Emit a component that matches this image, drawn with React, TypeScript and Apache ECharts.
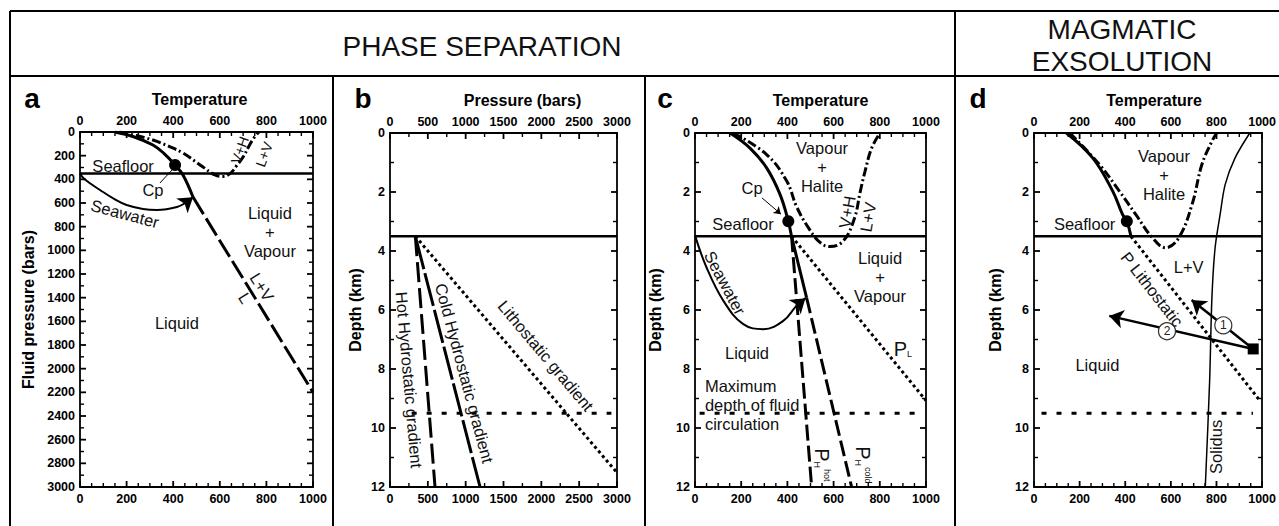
import React, { useEffect, useRef } from "react";
import * as echarts from "echarts";

const FONT = "'Liberation Sans', Arial, Helvetica, sans-serif";

// ---------- Header / panel texts ----------
const headerLeft = "PHASE SEPARATION";
const headerRight = ["MAGMATIC", "EXSOLUTION"];
const panelLetters = ["a", "b", "c", "d"];

// ---------- Panel a : Temperature vs Fluid pressure (bars) ----------
const aSeafloor = [[0, 350], [1000, 350]];
const aBoiling = [[150, 0], [230, 40], [313, 110], [360, 180], [408, 279], [442, 363], [485, 550]];
const aLVBoundary = [[485, 550], [1000, 2200]];
const aHalite = [[168, 0], [240, 30], [313, 68], [380, 120], [442, 178], [528, 296], [579, 363], [614, 376], [645, 350], [670, 290], [700, 211], [725, 120], [748, 45], [768, 0]];
const aSeawater = [[0, 350], [20, 400], [86, 490], [150, 570], [200, 617], [270, 650], [330, 659], [416, 634], [460, 590], [485, 552]];
const aCp = [[408, 279]];
const aCpLeader = [[343, 431], [395, 321]];

// ---------- Panel b : Pressure (bars) vs Depth (km) ----------
const bSeafloor = [[0, 3.5], [3000, 3.5]];
const bMaxDepth = [[286, 9.5], [2926, 9.5]];
const bHot = [[335, 3.5], [595, 12]];
const bCold = [[335, 3.5], [1190, 12]];
const bLitho = [[335, 3.5], [2995, 11.5]];

// ---------- Panel c : Temperature vs Depth (km) ----------
const cSeafloor = [[0, 3.5], [1000, 3.5]];
const cMaxDepth = [[20, 9.5], [965, 9.5]];
const cBoiling = [[152, 0], [238, 0.51], [310, 1.18], [368, 2.08], [404, 2.99], [418, 3.5], [483, 5.58]];
const cHalite = [[166, 0], [310, 0.73], [397, 1.63], [440, 2.5], [490, 3.2], [540, 3.7], [584, 3.85], [642, 3.66], [690, 2.9], [715, 2.0], [736, 1.3], [765, 0.51], [801, 0]];
const cHot = [[418, 3.5], [505, 12]];
const cCold = [[483, 5.58], [678, 12]];
const cLitho = [[418, 3.5], [1000, 9.07]];
const cSeawater = [[0, 3.47], [50, 4.56], [123, 5.69], [209, 6.48], [296, 6.65], [382, 6.37], [440, 5.85], [478, 5.6]];
const cCp = [[404, 2.99]];
const cCpArrow = [[290, 2.2], [372, 2.75]];

// ---------- Panel d : Temperature vs Depth (km) ----------
const dSeafloor = [[0, 3.5], [1000, 3.5]];
const dMaxDepth = [[33, 9.5], [960, 9.5]];
const dBoiling = [[142, 0], [258, 0.85], [345, 1.97], [388, 2.76], [407, 2.99], [425, 3.5]];
const dHalite = [[157, 0], [287, 1.07], [374, 1.97], [446, 2.76], [519, 3.55], [577, 3.89], [635, 3.55], [693, 2.42], [736, 1.07], [780, 0.28], [801, 0]];
const dLitho = [[425, 3.5], [990, 9.07]];
const dSolidus = [[946, 0], [881, 0.85], [838, 1.75], [816, 2.76], [794, 3.89], [780, 5.58], [770, 8.4], [751, 12]];
const dCp = [[407, 2.99]];
const dMagma = [[961, 7.32]];
const dArrowTips = [[691, 5.66], [330, 6.2]];
const dPathNumbers = [
  { name: "1", value: [830, 6.52] },
  { name: "2", value: [583, 6.72] },
];

// ---------- Annotation texts (anchored in data coordinates) ----------
type Lbl = { text: string; at: number[]; rotate?: number; align?: string; size?: number };
const aLabels: Lbl[] = [
  { text: "Seafloor", at: [185, 287] },
  { text: "Cp", at: [313, 490] },
  { text: "Seawater", at: [193, 690], rotate: -15 },
  { text: "Liquid\n+\nVapour", at: [815, 845] },
  { text: "L+V", at: [781, 1310], rotate: -58 },
  { text: "L", at: [708, 1403], rotate: -58 },
  { text: "Liquid", at: [416, 1615] },
  { text: "V+H", at: [686, 152], rotate: 70, size: 14 },
  { text: "L+V", at: [790, 190], rotate: 70, size: 14 },
];
const bLabels: Lbl[] = [
  { text: "Hot Hydrostatic gradient", at: [255, 8.37], rotate: -85 },
  { text: "Cold Hydrostatic gradient", at: [985, 8.14], rotate: -75 },
  { text: "Lithostatic gradient", at: [2060, 7.55], rotate: -50 },
];
const cLabels: Lbl[] = [
  { text: "Vapour\n+\nHalite", at: [550, 1.15] },
  { text: "Cp", at: [247, 1.86] },
  { text: "Seafloor", at: [208, 3.08] },
  { text: "V+H", at: [658, 2.68], rotate: 80 },
  { text: "L+V", at: [749, 2.85], rotate: 80 },
  { text: "Liquid\n+\nVapour", at: [801, 4.88] },
  { text: "Seawater", at: [130, 5.08], rotate: -62 },
  { text: "Liquid", at: [225, 7.46] },
  { text: "{p|P}{sub|L}", at: [900, 7.32] },
  { text: "Maximum\ndepth of fluid\ncirculation", at: [43, 9.22], align: "left" },
  { text: "{p|P}{sub|H}{sup|hot}", at: [550, 11.25], rotate: -90 },
  { text: "{p|P}{sub|H}{sup|cold}", at: [727, 11.25], rotate: -90 },
];
const dLabels: Lbl[] = [
  { text: "Vapour\n+\nHalite", at: [570, 1.42] },
  { text: "Seafloor", at: [222, 3.08] },
  { text: "L+V", at: [678, 4.54] },
  { text: "P Lithostatic", at: [518, 5.3], rotate: -52 },
  { text: "Liquid", at: [278, 7.86] },
  { text: "Solidus", at: [800, 10.64], rotate: 90 },
];

// ---------- Axes definitions ----------
const panelAxes = [
  { xMin: 0, xMax: 1000, xInt: 200, xMinor: 4, xName: "Temperature", yMin: 0, yMax: 3000, yInt: 200, yMinor: 2, yName: "Fluid pressure (bars)" },
  { xMin: 0, xMax: 3000, xInt: 500, xMinor: 2, xName: "Pressure (bars)", yMin: 0, yMax: 12, yInt: 2, yMinor: 2, yName: "Depth (km)" },
  { xMin: 0, xMax: 1000, xInt: 200, xMinor: 4, xName: "Temperature", yMin: 0, yMax: 12, yInt: 2, yMinor: 2, yName: "Depth (km)" },
  { xMin: 0, xMax: 1000, xInt: 200, xMinor: 4, xName: "Temperature", yMin: 0, yMax: 12, yInt: 2, yMinor: 2, yName: "Depth (km)" },
];

const GRIDS = [
  { left: 80, top: 132, width: 233, height: 355 },
  { left: 390, top: 133, width: 227, height: 354 },
  { left: 695, top: 133, width: 231, height: 354 },
  { left: 1034, top: 133, width: 230, height: 354 },
];
const X_NAME_PAD = [6, 38, 20, 12];
const Y_NAME_GAP = [44, 27, 32, 31];

const INK = "#111";
const RICH = {
  p: { fontSize: 20, fontFamily: FONT, color: INK },
  sub: { fontSize: 9, fontFamily: FONT, color: INK, verticalAlign: "bottom", padding: [8, 0, 0, 0] },
  sup: { fontSize: 9, fontFamily: FONT, color: INK, verticalAlign: "top", padding: [0, 0, 8, 1] },
};

function buildAxes() {
  const xs: any[] = [];
  const ys: any[] = [];
  panelAxes.forEach((p, gi) => {
    const common = {
      type: "value",
      gridIndex: gi,
      splitLine: { show: false },
      axisLine: { show: true, onZero: false, lineStyle: { color: "#000", width: 1.8 } },
      axisTick: { show: false },
      minorTick: { show: false },
      axisLabel: {
        show: true,
        margin: 5,
        color: "#000",
        fontWeight: "bold",
        fontSize: 12.5,
        fontFamily: FONT,
        formatter: (v: number) => String(v),
      },
    };
    const xc = { ...common, min: p.xMin, max: p.xMax, interval: p.xInt };
    xs.push({
      ...xc,
      position: "top",
      name: p.xName,
      nameLocation: "middle",
      nameGap: 25,
      nameTextStyle: { fontWeight: "bold", fontSize: 16, fontFamily: FONT, color: "#000", padding: [0, 0, 0, X_NAME_PAD[gi]] },
    });
    xs.push({ ...xc, position: "bottom" });
    const yc = { ...common, min: p.yMin, max: p.yMax, interval: p.yInt, inverse: true };
    ys.push({
      ...yc,
      position: "left",
      name: p.yName,
      nameLocation: "middle",
      nameGap: Y_NAME_GAP[gi],
      nameTextStyle: { fontWeight: "bold", fontSize: 16, fontFamily: FONT, color: "#000" },
    });
    ys.push({ ...yc, position: "right", axisLabel: { show: false } });
  });
  return { xs, ys };
}

// tick marks on all four sides of each frame, positioned through the chart's own axis scales
function buildTickGraphics(chart: any) {
  const out: any[] = [];
  panelAxes.forEach((p, gi) => {
    const finder = { xAxisIndex: 2 * gi, yAxisIndex: 2 * gi };
    const px = (x: number, y: number) => {
      const r = chart.convertToPixel(finder, [x, y]);
      return Array.isArray(r) && isFinite(r[0]) && isFinite(r[1]) ? r : null;
    };
    const xStep = p.xInt / p.xMinor;
    for (let i = 0; p.xMin + i * xStep <= p.xMax + 1e-9; i++) {
      const v = p.xMin + i * xStep;
      const major = i % p.xMinor === 0;
      const len = major ? 6 : 4;
      const style = { stroke: "#000", lineWidth: major ? 1.8 : 1.4 };
      const t = px(v, p.yMin);
      const b = px(v, p.yMax);
      if (t) out.push({ type: "line", silent: true, z: 50, shape: { x1: t[0], y1: t[1], x2: t[0], y2: t[1] + len }, style });
      if (b) out.push({ type: "line", silent: true, z: 50, shape: { x1: b[0], y1: b[1], x2: b[0], y2: b[1] - len }, style });
    }
    const yStep = p.yInt / p.yMinor;
    for (let i = 0; p.yMin + i * yStep <= p.yMax + 1e-9; i++) {
      const v = p.yMin + i * yStep;
      const major = i % p.yMinor === 0;
      const len = major ? 6 : 4;
      const style = { stroke: "#000", lineWidth: major ? 1.8 : 1.4 };
      const l = px(p.xMin, v);
      const r = px(p.xMax, v);
      if (l) out.push({ type: "line", silent: true, z: 50, shape: { x1: l[0], y1: l[1], x2: l[0] + len, y2: l[1] }, style });
      if (r) out.push({ type: "line", silent: true, z: 50, shape: { x1: r[0], y1: r[1], x2: r[0] - len, y2: r[1] }, style });
    }
  });
  return out;
}

function line(gi: number, data: number[][], width: number, type: any = "solid", smooth: number = 0, extra: any = {}) {
  return {
    type: "line",
    xAxisIndex: 2 * gi,
    yAxisIndex: 2 * gi,
    data,
    symbol: "none",
    showSymbol: false,
    silent: true,
    smooth,
    lineStyle: { color: "#000", width, type, cap: "butt" },
    z: 3,
    ...extra,
  };
}

function arrowEnd(data: number[][], size: number, width: number) {
  const n = data.length;
  return {
    silent: true,
    symbol: ["none", "arrow"],
    symbolSize: size,
    label: { show: false },
    itemStyle: { color: "#000" },
    lineStyle: { color: "#000", width, type: "solid" },
    data: [[{ coord: data[n - 2] }, { coord: data[n - 1] }]],
  };
}

function markers(gi: number, data: number[][], symbol: string, size: number) {
  return {
    type: "scatter",
    xAxisIndex: 2 * gi,
    yAxisIndex: 2 * gi,
    data,
    symbol,
    symbolSize: size,
    silent: true,
    itemStyle: { color: "#000", opacity: 1 },
    z: 5,
  };
}

function texts(gi: number, items: Lbl[]) {
  return {
    type: "scatter",
    xAxisIndex: 2 * gi,
    yAxisIndex: 2 * gi,
    silent: true,
    symbolSize: 0,
    itemStyle: { opacity: 1 },
    z: 10,
    data: items.map((it) => ({
      value: it.at,
      label: {
        show: true,
        position: "inside",
        formatter: it.text,
        rotate: it.rotate || 0,
        align: it.align || "center",
        verticalAlign: "middle",
        fontSize: it.size || 16.5,
        fontFamily: FONT,
        color: INK,
        opacity: 1,
        lineHeight: 19,
        rich: RICH,
      },
    })),
  };
}

function buildSeries() {
  const s: any[] = [];
  // a
  s.push(line(0, aSeafloor, 2.5));
  s.push(line(0, aBoiling, 3, "solid", 0.4));
  s.push(line(0, aLVBoundary, 3, [20, 5]));
  s.push(line(0, aHalite, 3, [9, 3, 2, 3], 0.4));
  s.push(line(0, aSeawater, 2, "solid", 0.4, { markLine: arrowEnd(aSeawater.slice(-2), 14, 2) }));
  s.push(line(0, aCpLeader, 1));
  s.push(markers(0, aCp, "circle", 12));
  s.push(texts(0, aLabels));
  // b
  s.push(line(1, bSeafloor, 2.5));
  s.push(line(1, bMaxDepth, 3, [5, 10]));
  s.push(line(1, bHot, 3, [20, 6]));
  s.push(line(1, bCold, 3, [34, 4]));
  s.push(line(1, bLitho, 3, [3, 3]));
  s.push(texts(1, bLabels));
  // c
  s.push(line(2, cSeafloor, 2.5));
  s.push(line(2, cMaxDepth, 3, [5, 10]));
  s.push(line(2, cBoiling, 3, "solid", 0.4));
  s.push(line(2, cHalite, 3, [9, 3, 2, 3], 0.4));
  s.push(line(2, cHot, 3, [16, 5]));
  s.push(line(2, cCold, 3, [16, 5]));
  s.push(line(2, cLitho, 3, [3, 3]));
  s.push(line(2, cSeawater, 2, "solid", 0.4, { markLine: arrowEnd(cSeawater.slice(-2), 14, 2) }));
  s.push({ ...markers(2, cCp, "circle", 12), markLine: arrowEnd(cCpArrow, 7, 1) });
  s.push(texts(2, cLabels));
  // d
  s.push(line(3, dSeafloor, 2.5));
  s.push(line(3, dMaxDepth, 3, [5, 10]));
  s.push(line(3, dBoiling, 3, "solid", 0.4));
  s.push(line(3, dHalite, 3, [9, 3, 2, 3], 0.4));
  s.push(line(3, dLitho, 3, [3, 3]));
  s.push(line(3, dSolidus, 1.5, "solid", 0.3));
  s.push(markers(3, dCp, "circle", 12));
  s.push({
    ...markers(3, dMagma, "rect", 11),
    markLine: {
      silent: true,
      symbol: ["none", "arrow"],
      symbolSize: 14,
      label: { show: false },
      itemStyle: { color: "#000" },
      lineStyle: { color: "#000", width: 2.5, type: "solid" },
      data: dArrowTips.map((t) => [{ coord: dMagma[0] }, { coord: t }]),
    },
  });
  s.push({
    type: "scatter",
    xAxisIndex: 6,
    yAxisIndex: 6,
    silent: true,
    symbol: "circle",
    symbolSize: 17,
    z: 8,
    itemStyle: { color: "#fff", borderColor: "#333", borderWidth: 1.2, opacity: 1 },
    label: { show: true, position: "inside", formatter: "{b}", fontSize: 12, fontFamily: FONT, color: "#222" },
    data: dPathNumbers,
  });
  s.push(texts(3, dLabels));
  return s;
}

function buildGraphic() {
  const st = { stroke: "#000", lineWidth: 2 };
  const g: any[] = [
    { type: "line", shape: { x1: 10, y1: 11, x2: 1279, y2: 11 }, style: st },
    { type: "line", shape: { x1: 10, y1: 11, x2: 10, y2: 526 }, style: st },
    { type: "line", shape: { x1: 10, y1: 76, x2: 1279, y2: 76 }, style: st },
    { type: "line", shape: { x1: 333, y1: 76, x2: 333, y2: 526 }, style: st },
    { type: "line", shape: { x1: 645, y1: 76, x2: 645, y2: 526 }, style: st },
    { type: "line", shape: { x1: 955, y1: 11, x2: 955, y2: 526 }, style: st },
    { type: "text", x: 482, y: 46, style: { text: headerLeft, fontSize: 28, fontFamily: FONT, fill: "#111", align: "center", verticalAlign: "middle" } },
    { type: "text", x: 1122, y: 29, style: { text: headerRight[0], fontSize: 28, fontFamily: FONT, fill: "#111", align: "center", verticalAlign: "middle" } },
    { type: "text", x: 1122, y: 61, style: { text: headerRight[1], fontSize: 28, fontFamily: FONT, fill: "#111", align: "center", verticalAlign: "middle" } },
  ];
  const lx = [32, 363, 665, 978];
  panelLetters.forEach((l, i) => {
    g.push({ type: "text", x: lx[i], y: 98, style: { text: l, fontSize: 28, fontWeight: "bold", fontFamily: FONT, fill: "#000", align: "center", verticalAlign: "middle" } });
  });
  return g;
}

export default function App() {
  const ref = useRef<HTMLDivElement>(null);
  useEffect(() => {
    if (!ref.current) return;
    const chart = echarts.init(ref.current, undefined, { renderer: "svg" });
    const { xs, ys } = buildAxes();
    chart.setOption({
      animation: false,
      grid: GRIDS.map((g) => ({ ...g })),
      xAxis: xs,
      yAxis: ys,
      series: buildSeries(),
    });
    let ticks: any[] = [];
    try {
      ticks = buildTickGraphics(chart);
    } catch (e) {
      ticks = [];
    }
    chart.setOption({ graphic: buildGraphic().concat(ticks) });
    return () => chart.dispose();
  }, []);
  return <div ref={ref} style={{ position: "absolute", left: 0, top: 0, width: 1279, height: 526, background: "#fff" }} />;
}
